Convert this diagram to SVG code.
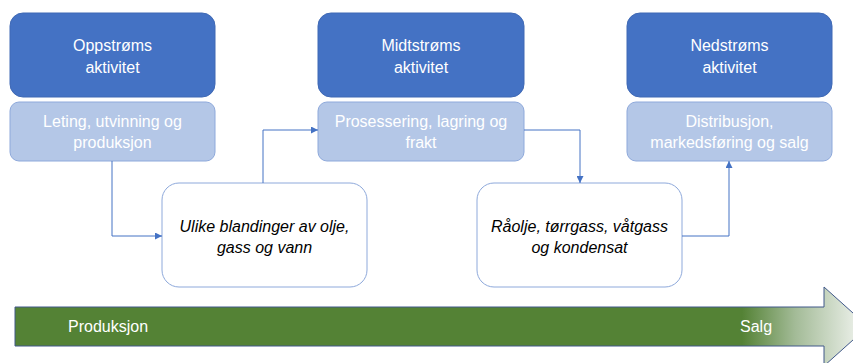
<svg xmlns="http://www.w3.org/2000/svg" width="853" height="363" viewBox="0 0 853 363">
  <defs>
    <style>
      .dark { fill: #4472C4; stroke: #3F69B5; stroke-width: 1; }
      .light { fill: #B4C7E7; stroke: #8EA9DB; stroke-width: 1; }
      .white { fill: #FFFFFF; stroke: #8EA9DB; stroke-width: 1; }
      .t { font-family: "Liberation Sans", Arial, sans-serif; font-size: 16px; text-anchor: middle; fill: #FFFFFF; }
      .ti { font-family: "Liberation Sans", Arial, sans-serif; font-size: 16px; font-style: italic; text-anchor: middle; fill: #000000; }
      .bt { font-family: "Liberation Sans", Arial, sans-serif; font-size: 16px; fill: #FFFFFF; }
      .conn { fill: none; stroke: #4472C4; stroke-width: 1; }
    </style>
    <marker id="ah" viewBox="0 0 10 10" refX="10" refY="5" markerWidth="7" markerHeight="7" orient="auto" markerUnits="userSpaceOnUse">
      <path d="M0,0 L10,5 L0,10 Z" fill="#4472C4"/>
    </marker>
    <linearGradient id="fade" gradientUnits="userSpaceOnUse" x1="742" y1="0" x2="860" y2="0">
      <stop offset="0" stop-color="#548235"/>
      <stop offset="0.45" stop-color="#A3BB97"/>
      <stop offset="1" stop-color="#EDF1EB"/>
    </linearGradient>
  </defs>

  <g id="oppstroms">
    <rect class="dark" x="10" y="13" width="205" height="84" rx="13"/>
    <text class="t" x="112.5" y="51">Oppstrøms</text>
    <text class="t" x="112.5" y="73">aktivitet</text>
  </g>
  <g id="leting">
    <rect class="light" x="10" y="102" width="205" height="59" rx="9"/>
    <text class="t" x="112.5" y="127">Leting, utvinning og</text>
    <text class="t" x="112.5" y="148">produksjon</text>
  </g>

  <g id="midtstroms">
    <rect class="dark" x="318" y="13" width="206" height="84" rx="13"/>
    <text class="t" x="421" y="51">Midtstrøms</text>
    <text class="t" x="421" y="73">aktivitet</text>
  </g>
  <g id="prosessering">
    <rect class="light" x="318" y="102" width="206" height="59" rx="9"/>
    <text class="t" x="421" y="127">Prosessering, lagring og</text>
    <text class="t" x="421" y="148">frakt</text>
  </g>

  <g id="nedstroms">
    <rect class="dark" x="627" y="13" width="205" height="84" rx="13"/>
    <text class="t" x="729.5" y="51">Nedstrøms</text>
    <text class="t" x="729.5" y="73">aktivitet</text>
  </g>
  <g id="distribusjon">
    <rect class="light" x="627" y="102" width="205" height="59" rx="9"/>
    <text class="t" x="729.5" y="127">Distribusjon,</text>
    <text class="t" x="729.5" y="148">markedsføring og salg</text>
  </g>

  <g id="blandinger">
    <rect class="white" x="162" y="183" width="205" height="104" rx="17"/>
    <text class="ti" x="264.5" y="232">Ulike blandinger av olje,</text>
    <text class="ti" x="264.5" y="253">gass og vann</text>
  </g>

  <g id="raolje">
    <rect class="white" x="477" y="183" width="205" height="104" rx="17"/>
    <text class="ti" x="579.5" y="232">Råolje, tørrgass, våtgass</text>
    <text class="ti" x="579.5" y="253">og kondensat</text>
  </g>

  <g id="connectors">
    <path class="conn" d="M112,161 V236 H162" marker-end="url(#ah)"/>
    <path class="conn" d="M263,183 V130 H318" marker-end="url(#ah)"/>
    <path class="conn" d="M524,130 H580 V183" marker-end="url(#ah)"/>
    <path class="conn" d="M682,236 H729 V161" marker-end="url(#ah)"/>
  </g>

  <g id="verdikjede">
    <path d="M15,307 H824 V287 L868,326.5 L824,366 V346 H15 Z" fill="url(#fade)" stroke="#41598A" stroke-width="1"/>
    <text class="bt" x="68" y="332">Produksjon</text>
    <text class="bt" x="740" y="332">Salg</text>
  </g>
</svg>
